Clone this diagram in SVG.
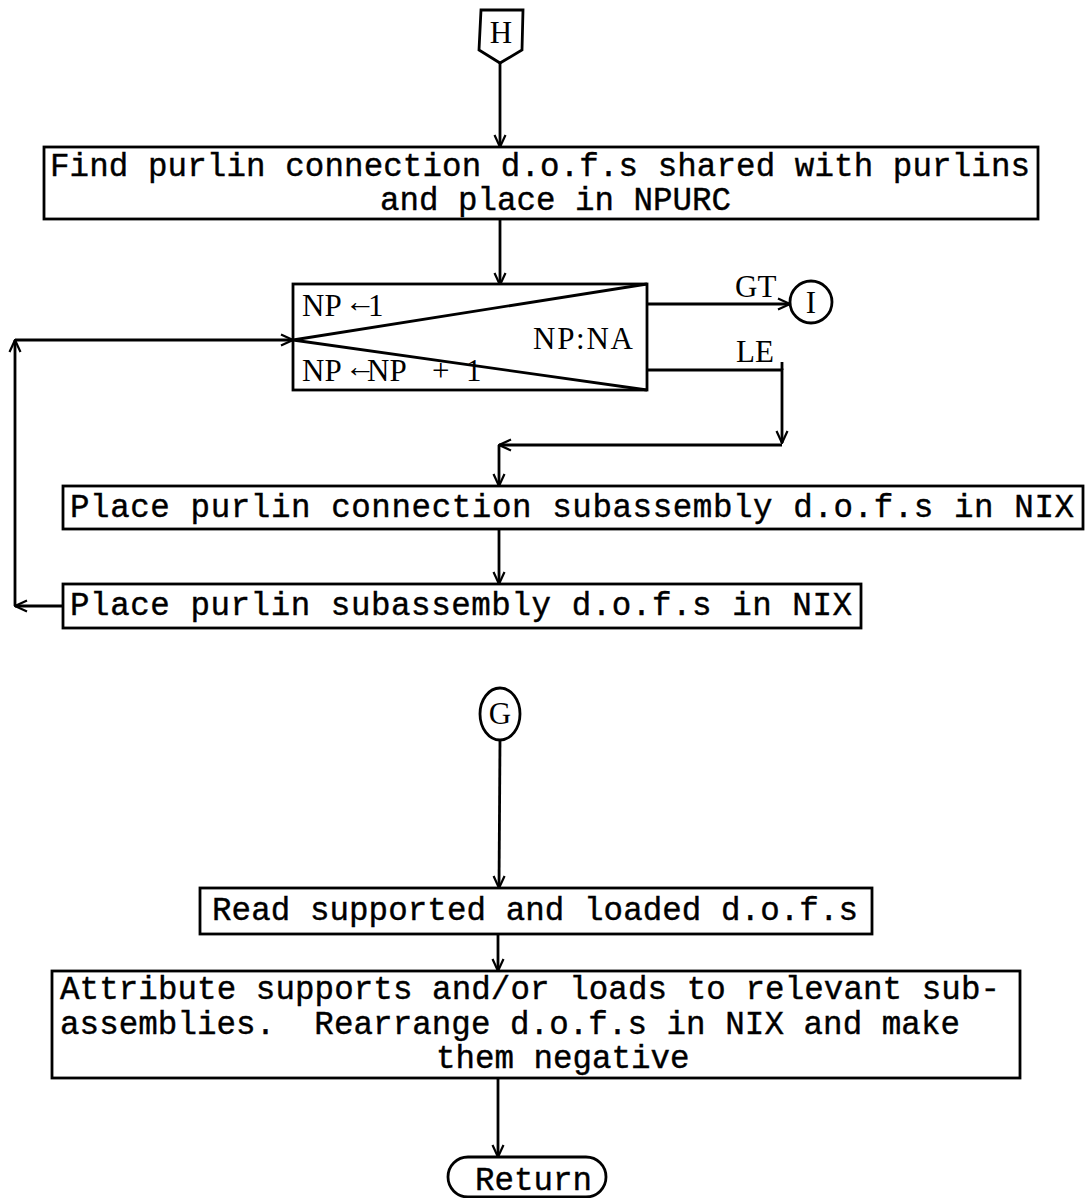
<svg xmlns="http://www.w3.org/2000/svg" width="1090" height="1198" viewBox="0 0 1090 1198">
  <defs>
    <marker id="arr" viewBox="0 0 14 14" refX="13" refY="7" markerWidth="14" markerHeight="14" markerUnits="userSpaceOnUse" orient="auto">
      <path d="M1,1.5 L13,7 L1,12.5" fill="none" stroke="#000" stroke-width="2.2"/>
    </marker>
  </defs>
  <style>
    .box { fill: #fff; stroke: #000; stroke-width: 2.8; }
    .ln { fill: none; stroke: #000; stroke-width: 2.8; }
    .cn { fill: none; stroke: #000; stroke-width: 2.8; marker-end: url(#arr); }
    .tw { font-family: "Liberation Mono", "DejaVu Sans Mono", monospace; font-size: 32.5px; fill: #000; stroke: #000; stroke-width: 0.4; }
    .sf { font-family: "Liberation Serif", "DejaVu Serif", serif; font-size: 31px; fill: #000; }
  </style>

  <rect width="1090" height="1198" fill="#fff"/>

  <!-- connectors -->
  <g id="connectors">
    <line class="cn" x1="500" y1="63" x2="500" y2="147"/>
    <line class="cn" x1="500" y1="219" x2="500" y2="285"/>
    <line class="cn" x1="647" y1="304" x2="790" y2="304"/>
    <polyline class="cn" points="647,370 782,370 782,443"/>
    <line class="ln" x1="782" y1="362" x2="782" y2="370"/>
    <line class="cn" x1="782" y1="445" x2="499" y2="445"/>
    <line class="cn" x1="499" y1="445" x2="499" y2="486"/>
    <line class="cn" x1="499" y1="529" x2="499" y2="584"/>
    <line class="cn" x1="63" y1="606" x2="15" y2="606"/>
    <line class="cn" x1="15" y1="606" x2="15" y2="340"/>
    <line class="cn" x1="15" y1="340" x2="293" y2="340"/>
    <line class="cn" x1="500" y1="740" x2="499" y2="888"/>
    <line class="cn" x1="498" y1="934" x2="498" y2="971"/>
    <line class="cn" x1="498" y1="1078" x2="498" y2="1157"/>
    <text class="sf" x="735" y="297" font-size="30">GT</text>
    <text class="sf" x="736" y="362" font-size="30">LE</text>
  </g>

  <!-- off-page entry H -->
  <g id="entryH">
    <path class="box" d="M481,10 L523,10 L522,50 L500,63 L479,50 Z"/>
    <text class="sf" x="501" y="43" text-anchor="middle" font-size="30">H</text>
  </g>

  <!-- find purlin connection d.o.f.s -->
  <g id="findConn">
    <rect class="box" x="44" y="147" width="994" height="72"/>
    <text class="tw" x="50" y="176" textLength="980" lengthAdjust="spacing">Find purlin connection d.o.f.s shared with purlins</text>
    <text class="tw" x="380" y="210">and place in NPURC</text>
  </g>

  <!-- loop decision NP:NA -->
  <g id="loopNP">
    <rect class="box" x="293" y="284" width="354" height="106"/>
    <polyline class="ln" points="647,284 293,340 647,390"/>
    <text class="sf" x="302" y="316">NP</text>
    <text class="sf" x="345" y="312" font-size="19">←</text>
    <text class="sf" x="368" y="316">1</text>
    <text class="sf" x="533" y="349" textLength="100" lengthAdjust="spacing">NP:NA</text>
    <text class="sf" x="302" y="381">NP</text>
    <text class="sf" x="345" y="377" font-size="19">←</text>
    <text class="sf" x="367" y="381">NP</text>
    <text class="sf" x="432" y="381">+</text>
    <text class="sf" x="466" y="381">1</text>
  </g>

  <!-- connector I -->
  <g id="connI">
    <circle class="box" cx="811" cy="302" r="21"/>
    <text class="sf" x="811" y="313" text-anchor="middle" font-size="29">I</text>
  </g>

  <!-- place purlin connection subassembly -->
  <g id="placeConn">
    <rect class="box" x="63" y="486" width="1020" height="43"/>
    <text class="tw" x="70" y="517" textLength="1004" lengthAdjust="spacing">Place purlin connection subassembly d.o.f.s in NIX</text>
  </g>

  <!-- place purlin subassembly -->
  <g id="placePurlin">
    <rect class="box" x="63" y="584" width="798" height="44"/>
    <text class="tw" x="70" y="615" textLength="782" lengthAdjust="spacing">Place purlin subassembly d.o.f.s in NIX</text>
  </g>

  <!-- connector G -->
  <g id="connG">
    <ellipse class="box" cx="500" cy="714" rx="20" ry="26"/>
    <text class="sf" x="500" y="724" text-anchor="middle" font-size="28">G</text>
  </g>

  <!-- read supported and loaded d.o.f.s -->
  <g id="readDof">
    <rect class="box" x="200" y="888" width="672" height="46"/>
    <text class="tw" x="212" y="920" textLength="646" lengthAdjust="spacing">Read supported and loaded d.o.f.s</text>
  </g>

  <!-- attribute supports and loads -->
  <g id="attribute">
    <rect class="box" x="52" y="971" width="968" height="107"/>
    <text class="tw" x="60" y="999" textLength="940" lengthAdjust="spacing">Attribute supports and/or loads to relevant sub-</text>
    <text class="tw" x="60" y="1034" textLength="900" lengthAdjust="spacing" xml:space="preserve">assemblies.  Rearrange d.o.f.s in NIX and make</text>
    <text class="tw" x="436" y="1068">them negative</text>
  </g>

  <!-- return terminal -->
  <g id="returnEnd">
    <rect class="box" x="448" y="1157" width="158" height="40" rx="20" ry="20"/>
    <text class="tw" x="475" y="1190">Return</text>
  </g>
</svg>
